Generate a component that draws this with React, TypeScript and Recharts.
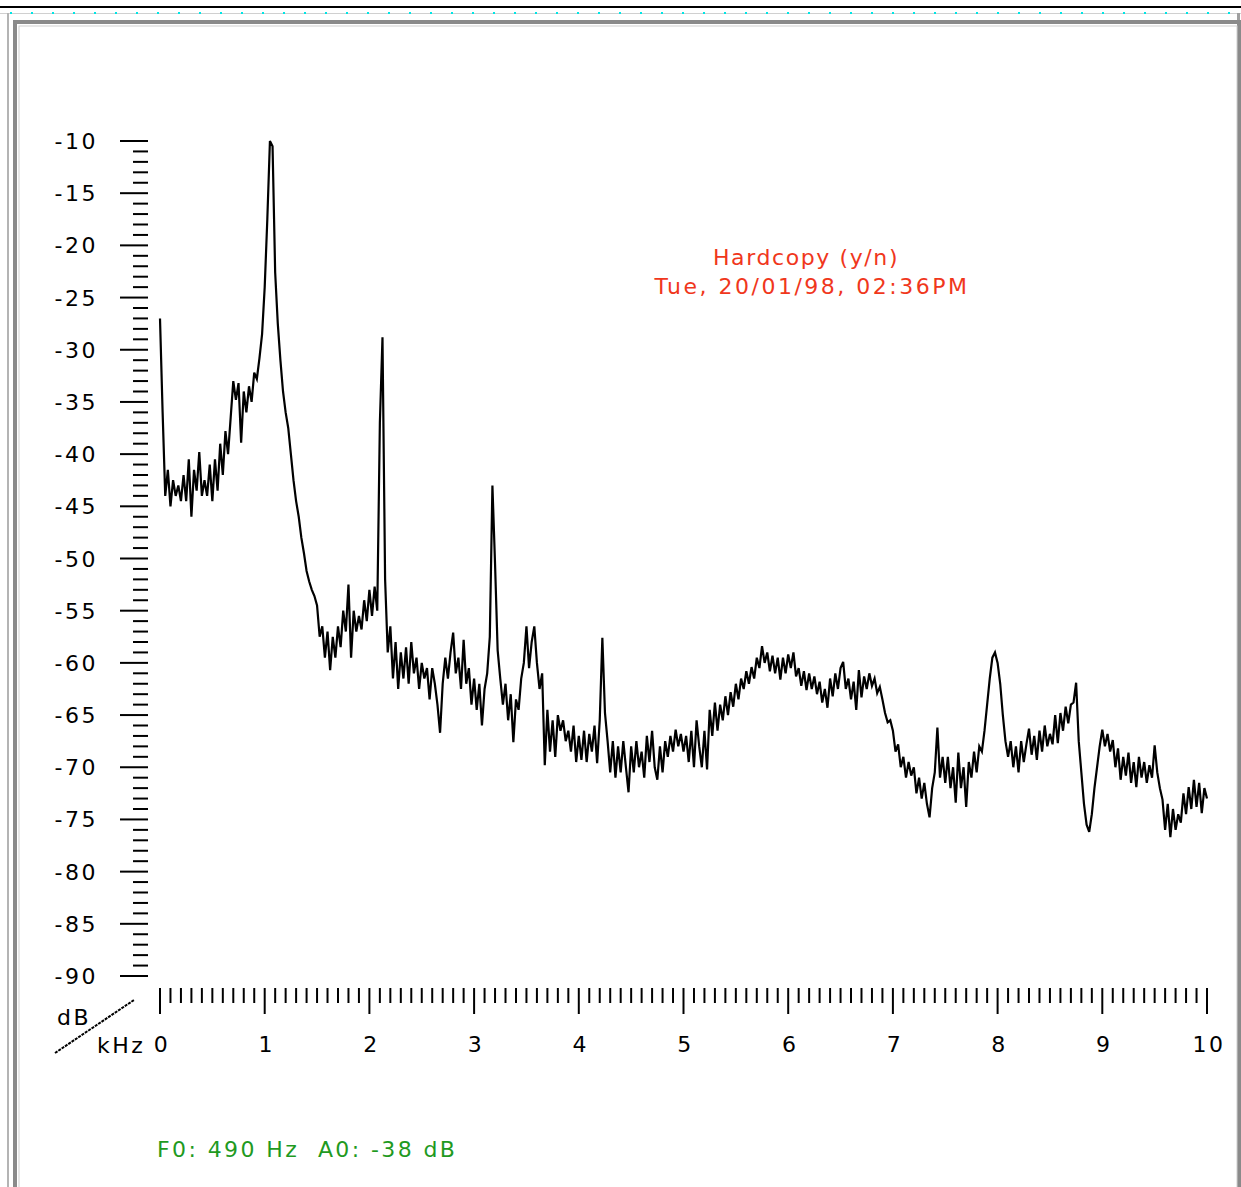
import { LineChart, Line, XAxis, YAxis } from 'recharts'

// spectrum level (dB) per 0.025 kHz bin, one array per kHz band
const band0 = [-27, -36, -44, -41.5, -45, -42.5, -44, -43, -44.5, -42, -44.5, -40.5, -46, -41.5, -43.5, -39.8, -44, -42.5, -44, -41, -44.5, -40.5, -43.5, -39, -42, -37.8, -40, -36.5, -33, -34.8, -33.2, -38.9, -34, -36, -33.5, -35, -32.2, -32.8, -30.8, -28.5]
const band1 = [-24, -17.5, -10, -10.5, -22.6, -27.5, -31, -34, -36, -37.5, -40, -42.5, -44.5, -46, -48, -49.5, -51.2, -52.2, -53, -53.6, -54.5, -57.5, -56.5, -59.5, -57, -60.7, -57.5, -59.5, -56.5, -58.5, -55, -57, -52.5, -59.5, -55, -57, -55.5, -56.8, -54, -56]
const band2 = [-53, -55.5, -52.7, -55, -37, -28.8, -52, -59, -56.5, -61.5, -58, -62.5, -59, -61.5, -58.5, -62, -58, -61, -59.5, -62.5, -60, -61.5, -60.5, -63.5, -60.5, -62, -64, -66.7, -62, -59.5, -61.5, -59, -57.1, -61, -59.5, -62.5, -57.8, -62, -60.5, -64]
const band3 = [-61.5, -64.5, -62, -66, -62.5, -61, -57.5, -43, -50.5, -58.8, -61.5, -64, -62, -65.5, -63, -67.6, -63.5, -64.5, -61.5, -60, -56.5, -60.5, -58, -56.5, -60, -62.5, -61, -69.8, -64.5, -68.5, -65.5, -69, -65, -66.5, -65.5, -67.5, -66.5, -68.5, -66, -69.5]
const band4 = [-67, -69.3, -66.5, -69.5, -66.8, -68.5, -66, -69.6, -65.5, -57.6, -64.8, -67.5, -70.5, -67.5, -71, -68, -70.5, -67.5, -70, -72.4, -68, -70.5, -67.5, -70, -68.5, -71, -67, -69.5, -66.5, -70, -71.2, -68, -70.5, -67.5, -69, -67, -68.5, -66.4, -68, -66.8]
const band5 = [-68.5, -67, -69.5, -66.5, -70, -65.5, -68, -70, -66.5, -70.2, -64.5, -67, -63.8, -66.5, -64, -65.5, -63.2, -65, -62.8, -64.2, -62, -63.5, -61.5, -62.5, -60.8, -62, -60.4, -61.5, -59.5, -60.5, -58.4, -60, -59, -60.8, -59.3, -61, -59.5, -61.6, -59.5, -61]
const band6 = [-59.2, -60.5, -59, -61.3, -60.5, -62.2, -60.8, -62.6, -61, -62.5, -61.3, -63, -61.8, -63.8, -62.5, -64.3, -61.5, -63.2, -61, -62.5, -60.5, -59.9, -62.5, -61.5, -63.5, -61.8, -64.5, -60.7, -63.3, -61.3, -62.5, -61, -62.2, -61.5, -62.9, -62.3, -63.5, -64.8, -65.7, -65.5]
const band7 = [-66.5, -68.5, -67.8, -70, -69, -71, -69.5, -70.8, -70, -72.5, -71, -73, -71.5, -73.5, -74.8, -72, -70.5, -66.2, -71, -69, -71.5, -69, -72, -70, -73.4, -68.6, -72, -70, -73.8, -69.5, -71, -68.5, -70.5, -68, -68.5, -66.5, -64, -61.5, -59.5, -59]
const band8 = [-60, -62, -65, -67.5, -69, -67.5, -70, -68, -70.5, -67.5, -69.5, -67.8, -66.3, -68.8, -67, -69.3, -66.5, -68.5, -66, -68, -66.8, -67.8, -65, -67.7, -64.8, -66.5, -64.2, -65.8, -64, -63.8, -61.9, -67.5, -70.5, -73.5, -75.5, -76.2, -74.5, -72, -70, -68]
const band9 = [-66.4, -68, -66.8, -68.5, -67.4, -70, -68.2, -71.2, -69, -70.8, -68.6, -71.5, -69.5, -71.9, -69, -71, -69.5, -71.5, -69.8, -71, -67.9, -70.5, -72, -73.1, -76, -73.5, -76.7, -74, -76, -74.5, -75.3, -72.5, -74.5, -71.9, -74, -71.2, -73.8, -71.5, -74.4, -72]
const lastLevel = -73

const BIN_KHZ = 0.025
const majorY = [-90, -85, -80, -75, -70, -65, -60, -55, -50, -45, -40, -35, -30, -25, -20, -15, -10]
const majorX = [0, 1, 2, 3, 4, 5, 6, 7, 8, 9, 10]

const levels = [...band0, ...band1, ...band2, ...band3, ...band4, ...band5, ...band6, ...band7, ...band8, ...band9, lastLevel]
const spectrum = levels.map((db, i) => ({ khz: Math.round(i * BIN_KHZ * 1000) / 1000, db }))

// minor ticks: every dB, every 0.1 kHz
const yTicks: number[] = []
for (let v = -90; v <= -10; v++) yTicks.push(v)
const xTicks: number[] = []
for (let i = 0; i <= 100; i++) xTicks.push(i / 10)

const FONT = '"DejaVu Sans", sans-serif'
const labelStyle = { fontFamily: FONT, fontSize: 22, letterSpacing: 2.5 }

function YTick(props: any) {
  const { x, y, payload } = props
  const major = majorY.includes(payload.value)
  return (
    <g>
      <line x1={x - (major ? 40 : 27)} x2={x - 12} y1={y} y2={y} stroke="#000" strokeWidth={2} />
      {major && (
        <text x={x - 62} y={y + 8} textAnchor="end" fill="#000" style={labelStyle}>
          {payload.value}
        </text>
      )}
    </g>
  )
}

function XTick(props: any) {
  const { x, y, payload } = props
  const major = majorX.includes(payload.value)
  return (
    <g>
      <line x1={x} x2={x} y1={y + 12} y2={y + (major ? 38 : 27)} stroke="#000" strokeWidth={2} />
      {major && (
        <text x={x + 2} y={y + 76} textAnchor="middle" fill="#000" style={labelStyle}>
          {payload.value}
        </text>
      )}
    </g>
  )
}

function Frame() {
  const dots: number[] = []
  for (let x = 10; x < 1241; x += 21) dots.push(x)
  return (
    <svg width={1241} height={1187} style={{ position: 'absolute', left: 0, top: 0 }}>
      <rect x={0} y={6} width={1241} height={2} fill="#000" />
      <rect x={0} y={13} width={1241} height={1} fill="#d0d0d0" />
      {dots.map((d) => (
        <rect key={d} x={d} y={12} width={2} height={2} fill="#00e5e5" />
      ))}
      <rect x={7} y={13} width={2} height={1180} fill="#b4b4b4" />
      <rect x={1237} y={13} width={3} height={1180} fill="#a0a0a0" />
      <rect x={15} y={22} width={1224} height={1200} fill="none" stroke="#8a8a8a" strokeWidth={4} />
      <rect x={19} y={26} width={1218} height={1200} fill="none" stroke="#cfcfcf" strokeWidth={1} />
      <line x1={55} y1={1053} x2={134} y2={1000} stroke="#000" strokeWidth={2} strokeDasharray="3 1" />
      <text x={57} y={1025} fill="#000" style={labelStyle}>dB</text>
      <text x={97} y={1053} fill="#000" style={labelStyle}>kHz</text>
      <text x={806} y={265} textAnchor="middle" fill="#f0371c" style={{ ...labelStyle, letterSpacing: 1.6 }}>Hardcopy (y/n)</text>
      <text x={812} y={294} textAnchor="middle" fill="#f0371c" style={{ ...labelStyle, letterSpacing: 2.5 }}>Tue, 20/01/98, 02:36PM</text>
      <text x={157} y={1157} fill="#1f9a1f" style={{ ...labelStyle, letterSpacing: 2.4, whiteSpace: 'pre' }}>
        F0: 490 Hz  A0: -38 dB
      </text>
    </svg>
  )
}

export default function App() {
  return (
    <div style={{ position: 'absolute', left: 0, top: 0, width: 1241, height: 1187, background: '#fff', overflow: 'hidden' }}>
      <Frame />
      <div style={{ position: 'absolute', left: 0, top: 0 }}>
        <LineChart width={1241} height={1187} data={spectrum} margin={{ top: 141, right: 34, bottom: 181, left: 100 }}>
          <XAxis
            dataKey="khz"
            type="number"
            domain={[0, 10]}
            ticks={xTicks}
            interval={0}
            axisLine={false}
            tickLine={false}
            tickSize={0}
            tickMargin={0}
            height={30}
            tick={(p: any) => <XTick {...p} />}
          />
          <YAxis
            type="number"
            domain={[-90, -10]}
            ticks={yTicks}
            interval={0}
            axisLine={false}
            tickLine={false}
            tickSize={0}
            tickMargin={0}
            width={60}
            tick={(p: any) => <YTick {...p} />}
          />
          <Line type="linear" dataKey="db" stroke="#000" strokeWidth={2.2} dot={false} isAnimationActive={false} />
        </LineChart>
      </div>
    </div>
  )
}
